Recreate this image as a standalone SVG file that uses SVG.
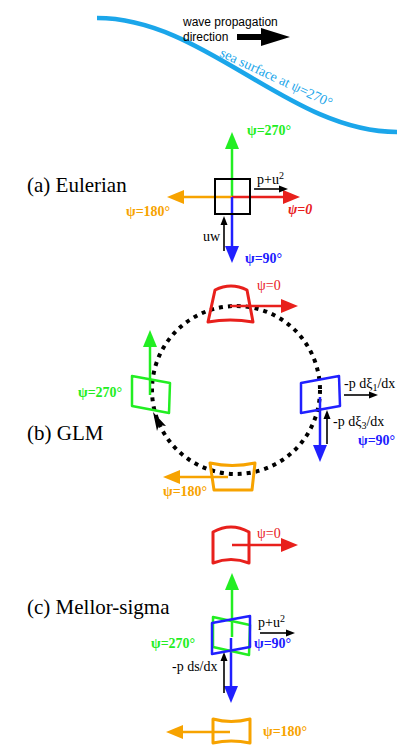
<svg xmlns="http://www.w3.org/2000/svg" width="414" height="750" viewBox="0 0 414 750">
<style>
.lbl{font-family:"Liberation Serif","Times New Roman",serif;font-size:14px}
.b{font-weight:bold}
.sec{font-family:"Liberation Serif","Times New Roman",serif;font-size:21px;fill:#000}
.g{fill:#22ee22}.r{fill:#e8201c}.bl{fill:#2020ff}.o{fill:#f7a300}
.sg{stroke:#22ee22}.sr{stroke:#e8201c}.sb{stroke:#2020ff}.so{stroke:#f7a300}
.arr{stroke-width:2.5;fill:none}
.shape{fill:none;stroke-width:3;stroke-linejoin:round}
.blk{stroke:#000;stroke-width:1.6;fill:none}
</style>
<defs>
<marker id="hg" markerUnits="userSpaceOnUse" markerWidth="18" markerHeight="14" viewBox="0 0 18 14" refX="0" refY="7" orient="auto"><path d="M0,0 L17,7 L0,14 z" fill="#22ee22"/></marker>
<marker id="hr" markerUnits="userSpaceOnUse" markerWidth="18" markerHeight="14" viewBox="0 0 18 14" refX="0" refY="7" orient="auto"><path d="M0,0 L17,7 L0,14 z" fill="#e8201c"/></marker>
<marker id="hb" markerUnits="userSpaceOnUse" markerWidth="18" markerHeight="14" viewBox="0 0 18 14" refX="0" refY="7" orient="auto"><path d="M0,0 L17,7 L0,14 z" fill="#2020ff"/></marker>
<marker id="ho" markerUnits="userSpaceOnUse" markerWidth="18" markerHeight="14" viewBox="0 0 18 14" refX="0" refY="7" orient="auto"><path d="M0,0 L17,7 L0,14 z" fill="#f7a300"/></marker>
<marker id="hk" markerUnits="userSpaceOnUse" markerWidth="10" markerHeight="8" viewBox="0 0 10 8" refX="0" refY="4" orient="auto"><path d="M0,0.5 L9,4 L0,7.5 z" fill="#000"/></marker>
</defs>

<g id="sea-surface">
<path d="M97,18 C205,18 289,132 397,132" fill="none" stroke="#1ba6ea" stroke-width="4.5"/>
<text transform="translate(219,56) rotate(25)" class="lbl" style="fill:#1ba6ea;font-size:14px">sea surface at ψ=270°</text>
</g>
<g id="wave-direction">
<text x="183" y="26" font-family="Liberation Sans, Arial, sans-serif" font-size="12" fill="#000">wave propagation</text>
<text x="183" y="41" font-family="Liberation Sans, Arial, sans-serif" font-size="12" fill="#000">direction</text>
<polygon points="237,34 261,34 261,28 290,37 261,46 261,40 237,40" fill="#000"/>
</g>

<g id="titles">
<text x="27" y="192" class="sec">(a) Eulerian</text>
<text x="27" y="440" class="sec">(b) GLM</text>
<text x="27" y="614" class="sec">(c) Mellor-sigma</text>
</g>

<g id="connectors">
<line x1="232" y1="197" x2="232" y2="149" class="arr sg" marker-end="url(#hg)"/>
<line x1="232" y1="197" x2="184" y2="197" class="arr so" marker-end="url(#ho)"/>
<line x1="232" y1="197" x2="283" y2="197" class="arr sr" marker-end="url(#hr)"/>
<line x1="232" y1="197" x2="232" y2="246" class="arr sb" marker-end="url(#hb)"/>
<line x1="254" y1="189" x2="279" y2="189" class="blk" marker-end="url(#hk)"/>
<line x1="224" y1="251" x2="224" y2="225" class="blk" marker-end="url(#hk)"/>
<circle cx="236" cy="390" r="84" fill="none" stroke="#000" stroke-width="4" stroke-dasharray="4 5"/>
<path d="M153,412 L166,426 L159,425 L157,431 z" fill="#000"/>
<line x1="230" y1="306" x2="281" y2="306" class="arr sr" marker-end="url(#hr)"/>
<line x1="320" y1="397" x2="320" y2="445" class="arr sb" marker-end="url(#hb)"/>
<line x1="150" y1="395" x2="150" y2="347" class="arr sg" marker-end="url(#hg)"/>
<line x1="228" y1="477" x2="180" y2="477" class="arr so" marker-end="url(#ho)"/>
<line x1="344" y1="395" x2="369" y2="395" class="blk" marker-end="url(#hk)"/>
<line x1="327" y1="444" x2="327" y2="419" class="blk" marker-end="url(#hk)"/>
<line x1="232" y1="545" x2="281" y2="545" class="arr sr" marker-end="url(#hr)"/>
<line x1="232" y1="637" x2="232" y2="590" class="arr sg" marker-end="url(#hg)"/>
<line x1="231" y1="638" x2="231" y2="686" class="arr sb" marker-end="url(#hb)"/>
<line x1="230" y1="732" x2="183" y2="732" class="arr so" marker-end="url(#ho)"/>
<line x1="260" y1="633" x2="286" y2="633" class="blk" marker-end="url(#hk)"/>
<line x1="224" y1="693" x2="224" y2="661" class="blk" marker-end="url(#hk)"/>
</g>

<g id="eulerian-box">
<rect x="215" y="179" width="35" height="35" fill="none" stroke="#000" stroke-width="2"/>
<text x="247" y="135" class="lbl b g">ψ=270°</text>
<text x="288" y="214" class="lbl b r" font-style="italic">ψ=0</text>
<text x="245" y="263" class="lbl b bl">ψ=90°</text>
<text x="126" y="216" class="lbl b o">ψ=180°</text>
<text x="257" y="184" class="lbl">p+u<tspan dy="-5" font-size="10">2</tspan></text>
<text x="203" y="241" class="lbl">uw</text>
</g>

<g id="glm-0">
<path d="M215,290 Q231,282 247,290 L253,322 Q230,318 208,322 Z" class="shape sr"/>
<text x="257" y="290" class="lbl r">ψ=0</text>
</g>
<g id="glm-90">
<path d="M301,383 L339,376 L340,406 L301,413 Z" class="shape sb" style="stroke-width:2.5"/>
<text x="344" y="388" class="lbl">-p dξ<tspan dy="3" font-size="10">1</tspan><tspan dy="-3">/dx</tspan></text>
<text x="333" y="426" class="lbl">-p dξ<tspan dy="3" font-size="10">3</tspan><tspan dy="-3">/dx</tspan></text>
<text x="358" y="445" class="lbl b bl">ψ=90°</text>
</g>
<g id="glm-270">
<path d="M132,376 L170,383 L169,413 L132,406 Z" class="shape sg" style="stroke-width:2.5"/>
<text x="78" y="397" class="lbl b g">ψ=270°</text>
</g>
<g id="glm-180">
<path d="M210,463 Q232,468 255,463 L252,490 L214,490 Z" class="shape so"/>
<text x="163" y="496" class="lbl b o">ψ=180°</text>
</g>

<g id="mellor-0">
<path d="M213,532 Q231,522 249,532 L249,563 Q231,556 213,563 Z" class="shape sr"/>
<text x="257" y="538" class="lbl r">ψ=0</text>
</g>
<g id="mellor-90-270">
<path d="M213,617 L250,625 L249,655 L213,647 Z" class="shape sg" style="stroke-width:2.5"/>
<path d="M212,623 L250,616 L250,647 L212,654 Z" class="shape sb" style="stroke-width:2.5"/>
<text x="151" y="648" class="lbl b g">ψ=270°</text>
<text x="254" y="648" class="lbl b bl">ψ=90°</text>
<text x="258" y="627" class="lbl">p+u<tspan dy="-5" font-size="10">2</tspan></text>
<text x="172" y="671" class="lbl">-p ds/dx</text>
</g>
<g id="mellor-180">
<path d="M213,719 Q231,724 250,719 L250,743 Q231,739 213,743 Z" class="shape so"/>
<text x="263" y="736" class="lbl b o">ψ=180°</text>
</g>
</svg>
